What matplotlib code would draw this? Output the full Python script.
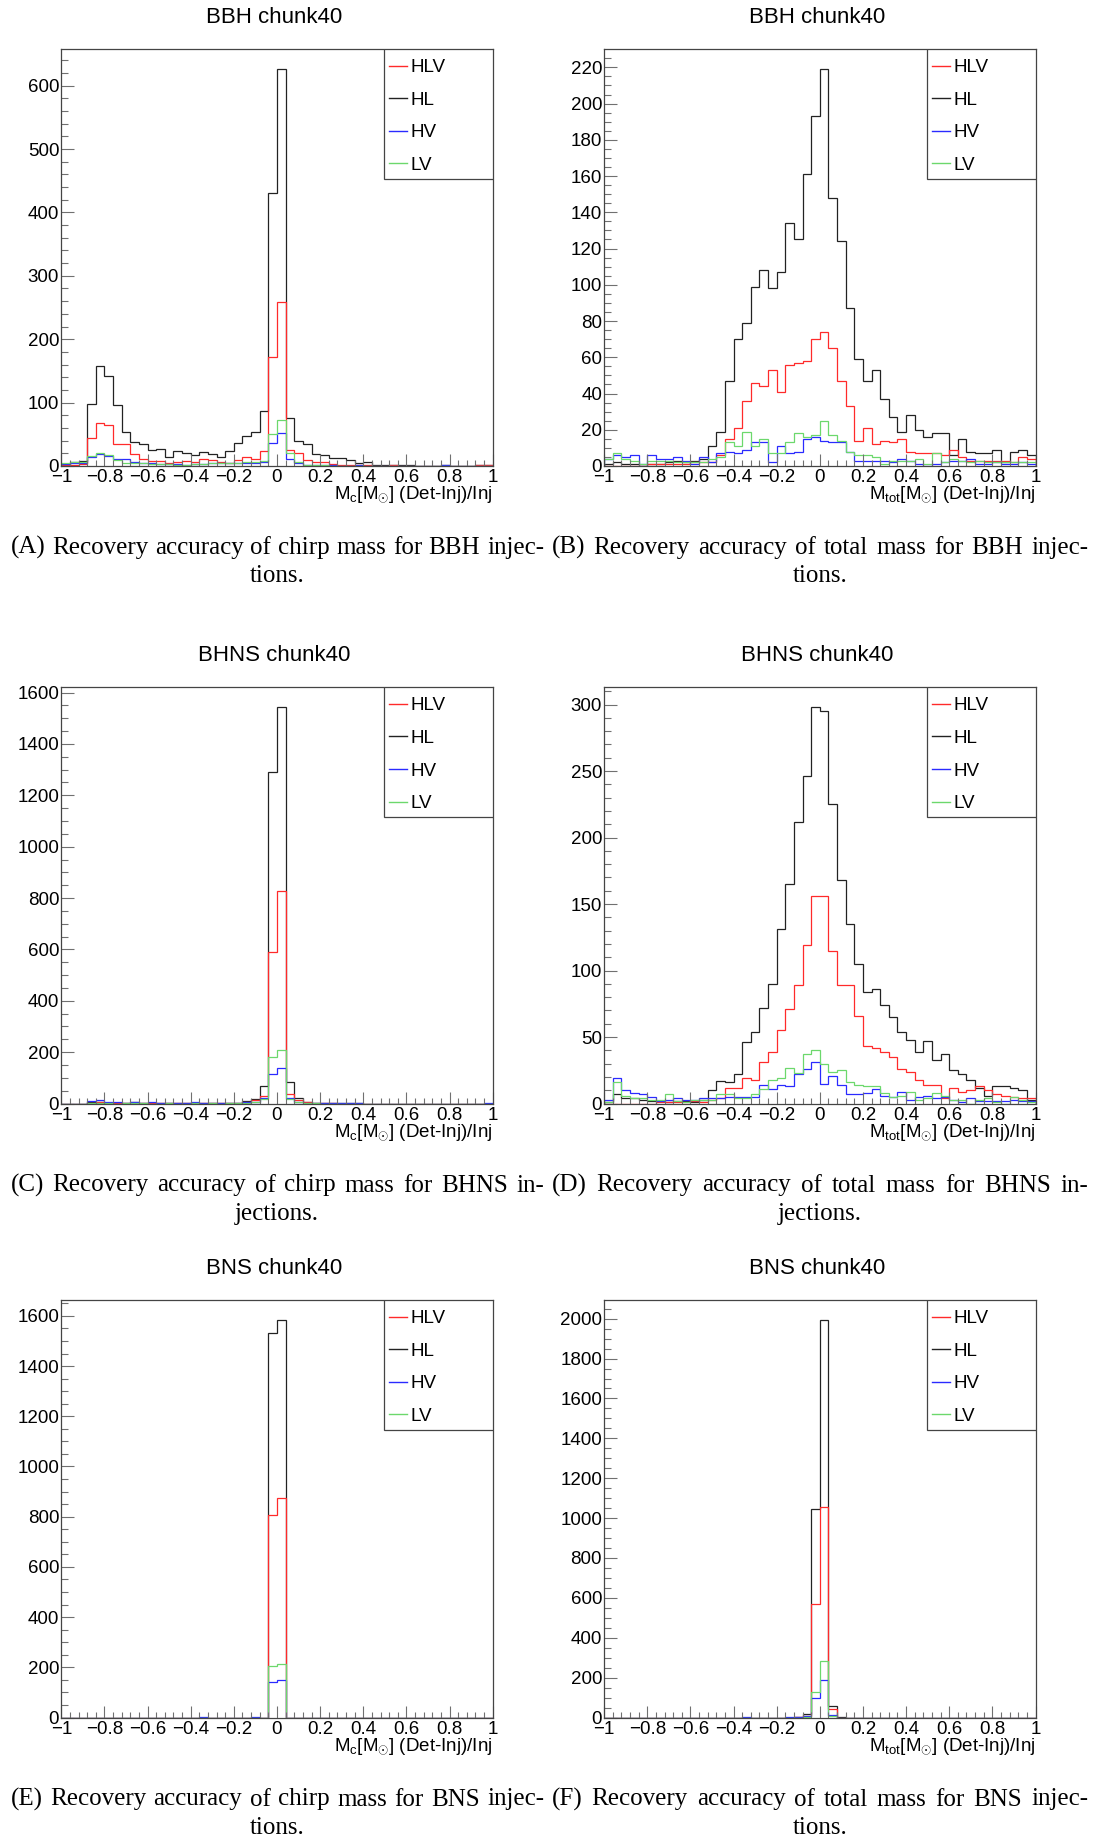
import numpy as np
import matplotlib
matplotlib.use('Agg')
import matplotlib.pyplot as plt
from matplotlib.patches import Rectangle
from matplotlib.ticker import MultipleLocator, FixedLocator

plt.rcParams['font.family'] = ['Liberation Sans', 'DejaVu Sans']
plt.rcParams['mathtext.fontset'] = 'custom'
plt.rcParams['mathtext.rm'] = 'Liberation Sans'
plt.rcParams['mathtext.it'] = 'Liberation Sans:italic'
plt.rcParams['mathtext.bf'] = 'Liberation Sans:bold'

# 50 bins from -1 to 1
bin_edges = np.round(np.linspace(-1, 1, 51), 2)

xtick_pos = [-1, -0.8, -0.6, -0.4, -0.2, 0, 0.2, 0.4, 0.6, 0.8, 1]
xtick_labels = ['\u22121', '\u22120.8', '\u22120.6', '\u22120.4', '\u22120.2', '0',
                '0.2', '0.4', '0.6', '0.8', '1']

series_names = ['HLV', 'HL', 'HV', 'LV']
series_colors = {'HLV': '#ff2a2a', 'HL': '#222222', 'HV': '#2a2aff', 'LV': '#6cd86c'}
draw_order = ['HL', 'HLV', 'HV', 'LV']

# ---- BBH chirp mass
HL_A = [2, 6, 8, 98, 157, 142, 97, 54, 38, 35, 26, 27, 14, 24, 20, 17, 22, 19, 14, 24,
        37, 47, 53, 86, 431, 626, 75, 39, 35, 19, 17, 13, 12, 9, 5, 6, 2, 1, 1, 1,
        1, 0, 0, 0, 1, 0, 0, 0, 1, 1]
HLV_A = [1, 2, 3, 44, 68, 65, 34, 35, 19, 11, 8, 8, 4, 6, 8, 7, 11, 9, 7, 5,
         9, 14, 11, 24, 172, 259, 26, 21, 9, 6, 7, 3, 2, 1, 1, 1, 0, 0, 1, 0,
         0, 0, 0, 0, 0, 0, 0, 0, 1, 1]
HV_A = [3, 4, 5, 14, 19, 15, 11, 11, 6, 5, 4, 3, 3, 3, 2, 3, 3, 4, 4, 5,
        4, 4, 5, 6, 36, 52, 11, 5, 2, 1, 1, 1, 0, 0, 1, 0, 0, 0, 0, 0,
        0, 0, 0, 0, 1, 0, 0, 0, 0, 0]
LV_A = [5, 6, 7, 15, 20, 17, 9, 5, 5, 4, 3, 3, 3, 2, 2, 3, 3, 4, 4, 5,
        5, 6, 6, 8, 50, 73, 20, 6, 2, 1, 1, 0, 0, 0, 0, 0, 0, 0, 0, 0,
        0, 0, 0, 0, 0, 0, 0, 0, 0, 0]

# ---- BBH total mass
HL_B = [1, 2, 1, 1, 0, 1, 1, 2, 3, 2, 3, 4, 11, 19, 47, 70, 79, 99, 108, 98,
        107, 134, 125, 161, 193, 219, 148, 124, 87, 59, 47, 53, 37, 27, 19, 28, 20, 16, 18, 18,
        6, 15, 8, 7, 7, 9, 2, 8, 9, 6]
HLV_B = [0, 0, 0, 0, 0, 1, 1, 1, 1, 1, 2, 2, 2, 6, 15, 21, 36, 46, 44, 53,
         41, 56, 57, 58, 70, 74, 65, 47, 33, 14, 21, 12, 14, 13, 15, 8, 7, 7, 7, 6,
         9, 5, 3, 3, 3, 3, 3, 2, 5, 4]
HV_B = [4, 6, 5, 6, 1, 6, 4, 4, 5, 3, 1, 5, 2, 7, 8, 7, 9, 13, 13, 2,
        11, 7, 8, 15, 16, 14, 13, 13, 8, 3, 3, 3, 3, 2, 4, 3, 1, 0, 1, 2,
        3, 3, 4, 1, 1, 2, 1, 1, 2, 1]
LV_B = [4, 7, 4, 3, 1, 3, 3, 3, 2, 2, 2, 2, 4, 5, 13, 11, 19, 11, 15, 7,
        7, 13, 18, 16, 17, 25, 17, 14, 8, 6, 6, 5, 1, 3, 3, 3, 4, 1, 7, 2,
        4, 3, 2, 3, 2, 2, 2, 2, 2, 2]

# ---- BHNS chirp mass
HL_C = [0, 0, 0, 5, 6, 3, 2, 3, 4, 2, 3, 2, 1, 2, 1, 2, 2, 3, 2, 1,
        3, 10, 18, 70, 1292, 1543, 85, 22, 7, 3, 2, 2, 2, 1, 1, 0, 0, 0, 0, 0,
        0, 0, 0, 0, 0, 0, 0, 0, 0, 0]
HLV_C = [0, 0, 0, 3, 4, 2, 1, 2, 3, 1, 2, 1, 1, 1, 1, 2, 1, 2, 1, 1,
         2, 5, 12, 28, 590, 828, 37, 13, 4, 2, 1, 1, 0, 0, 0, 0, 0, 0, 0, 0,
         0, 0, 0, 0, 0, 0, 0, 0, 0, 0]
HV_C = [0, 0, 0, 8, 12, 5, 4, 3, 6, 3, 4, 2, 2, 3, 2, 4, 2, 3, 2, 2,
        3, 4, 6, 22, 115, 140, 20, 7, 3, 2, 3, 2, 2, 3, 1, 0, 0, 0, 0, 0,
        0, 0, 0, 0, 0, 0, 0, 0, 0, 2]
LV_C = [0, 0, 0, 1, 1, 1, 0, 1, 1, 1, 0, 0, 1, 0, 0, 1, 0, 1, 0, 1,
        1, 2, 5, 18, 181, 207, 18, 7, 2, 1, 0, 0, 0, 0, 0, 0, 0, 0, 0, 0,
        0, 0, 0, 0, 0, 0, 0, 0, 0, 0]

# ---- BHNS total mass
HL_D = [1, 7, 4, 4, 3, 2, 2, 1, 2, 2, 1, 3, 10, 17, 16, 22, 46, 54, 72, 90,
        131, 165, 212, 246, 298, 295, 225, 168, 135, 105, 84, 86, 74, 65, 54, 48, 39, 47, 33, 37,
        25, 22, 18, 12, 6, 13, 13, 12, 10, 3]
HLV_D = [0, 0, 0, 0, 0, 0, 1, 1, 1, 1, 2, 1, 3, 4, 12, 12, 19, 18, 31, 39,
         55, 71, 89, 119, 156, 156, 115, 89, 89, 66, 43, 42, 39, 35, 26, 24, 18, 14, 14, 4,
         12, 9, 10, 13, 10, 7, 6, 5, 4, 4]
HV_D = [3, 19, 10, 8, 7, 5, 2, 3, 4, 3, 3, 4, 4, 4, 5, 5, 5, 5, 14, 11,
        14, 13, 22, 26, 31, 15, 21, 14, 7, 7, 8, 11, 6, 5, 9, 3, 5, 6, 4, 5,
        3, 1, 4, 2, 2, 2, 2, 3, 2, 2]
LV_D = [1, 16, 6, 4, 4, 3, 3, 7, 2, 1, 3, 3, 3, 7, 7, 4, 4, 7, 11, 18,
        19, 27, 23, 37, 40, 30, 24, 25, 16, 14, 13, 13, 8, 5, 6, 9, 3, 4, 8, 6,
        3, 3, 0, 3, 4, 1, 0, 5, 3, 1]

# ---- BNS chirp mass
HL_E = [0] * 24 + [1531, 1584] + [0] * 24
HLV_E = [0] * 24 + [806, 873] + [0] * 24
HV_E = [0] * 16 + [2, 0, 0, 0, 0, 0, 2, 0] + [140, 148] + [0] * 24
LV_E = [0] * 24 + [204, 212] + [0] * 24

# ---- BNS total mass
HL_F = [0] * 22 + [3, 17, 1047, 1994, 60, 3] + [0] * 22
HLV_F = [0] * 22 + [3, 9, 571, 1058, 41, 0] + [0] * 22
HV_F = [0] * 16 + [3, 0, 0, 0, 0, 2, 4, 6, 98, 186, 13, 0] + [0] * 22
LV_F = [0] * 23 + [4, 126, 282, 9] + [0] * 23

titles = ['BBH chunk40', 'BBH chunk40', 'BHNS chunk40', 'BHNS chunk40',
          'BNS chunk40', 'BNS chunk40']
xlabel_c = r'M$_{\mathrm{c}}$[M$_{\odot}$] (Det-Inj)/Inj'
xlabel_tot = r'M$_{\mathrm{tot}}$[M$_{\odot}$] (Det-Inj)/Inj'
captions = [
    ('(A) Recovery accuracy of chirp mass for BBH injec-', 'tions.'),
    ('(B) Recovery accuracy of total mass for BBH injec-', 'tions.'),
    ('(C) Recovery accuracy of chirp mass for BHNS in-', 'jections.'),
    ('(D) Recovery accuracy of total mass for BHNS in-', 'jections.'),
    ('(E) Recovery accuracy of chirp mass for BNS injec-', 'tions.'),
    ('(F) Recovery accuracy of total mass for BNS injec-', 'tions.'),
]

panels = [
    dict(data={'HLV': HLV_A, 'HL': HL_A, 'HV': HV_A, 'LV': LV_A}, xlabel=xlabel_c, major=100, minor=20),
    dict(data={'HLV': HLV_B, 'HL': HL_B, 'HV': HV_B, 'LV': LV_B}, xlabel=xlabel_tot, major=20, minor=5),
    dict(data={'HLV': HLV_C, 'HL': HL_C, 'HV': HV_C, 'LV': LV_C}, xlabel=xlabel_c, major=200, minor=50),
    dict(data={'HLV': HLV_D, 'HL': HL_D, 'HV': HV_D, 'LV': LV_D}, xlabel=xlabel_tot, major=50, minor=10),
    dict(data={'HLV': HLV_E, 'HL': HL_E, 'HV': HV_E, 'LV': LV_E}, xlabel=xlabel_c, major=200, minor=50),
    dict(data={'HLV': HLV_F, 'HL': HL_F, 'HV': HV_F, 'LV': LV_F}, xlabel=xlabel_tot, major=200, minor=50),
]

W, H = 1094, 1838
fig = plt.figure(figsize=(W / 100, H / 100), dpi=100)
renderer = fig.canvas.get_renderer()

col_x = [(61.3, 492.7), (604.2, 1035.5)]
row_y = [(49.3, 466.0), (687.4, 1103.5), (1300.0, 1717.5)]
cap_x = [(10.5, 544.0), (552.0, 1088.0)]
serif = ['Liberation Serif', 'DejaVu Serif']
cap_size = 18


def justified(text, x0, x1, y_base, size):
    # spread the words of a caption line over the column width
    words = text.split()
    arts = [fig.text(0, 1 - y_base / H, w, ha='left', va='baseline', fontsize=size,
                     family=serif) for w in words]
    widths = [a.get_window_extent(renderer).width for a in arts]
    gap = (x1 - x0 - sum(widths)) / (len(words) - 1)
    x = x0
    for a, w in zip(arts, widths):
        a.set_x(x / W)
        x += w + gap


for k, p in enumerate(panels):
    r, c = divmod(k, 2)
    x0, x1 = col_x[c]
    y0, y1 = row_y[r]
    hpx = y1 - y0
    ax = fig.add_axes([x0 / W, 1 - y1 / H, (x1 - x0) / W, hpx / H])

    for name in draw_order:
        ax.stairs(p['data'][name], bin_edges, color=series_colors[name], lw=0.9)

    top = 1.05 * max(max(v) for v in p['data'].values())
    ax.set_xlim(-1, 1)
    ax.set_ylim(0, top)

    ax.xaxis.set_major_locator(FixedLocator(xtick_pos))
    ax.set_xticklabels(xtick_labels)
    ax.xaxis.set_minor_locator(MultipleLocator(0.04))
    ax.yaxis.set_major_locator(MultipleLocator(p['major']))
    ax.yaxis.set_minor_locator(MultipleLocator(p['minor']))
    ax.tick_params(axis='both', which='both', direction='in', color='#707070', width=0.8,
                   labelsize=13.5, top=False, right=False)
    ax.tick_params(axis='x', which='major', length=8.4, pad=2.5)
    ax.tick_params(axis='x', which='minor', length=4.3)
    ax.tick_params(axis='y', which='major', length=9.4, pad=1.5)
    ax.tick_params(axis='y', which='minor', length=5.0)
    for s in ax.spines.values():
        s.set_color('#444444')
        s.set_linewidth(0.9)
        s.set_zorder(5)

    ax.text(1.0, -33.3 / hpx, p['xlabel'], transform=ax.transAxes, ha='right',
            va='baseline', fontsize=13.5)
    ax.text(0.494, 1 + 26 / hpx, titles[k], transform=ax.transAxes, ha='center',
            va='baseline', fontsize=16)

    # legend box, ROOT style
    ax.add_patch(Rectangle((0.749, 1 - 130 / hpx), 0.251, 130 / hpx, transform=ax.transAxes,
                           facecolor='white', edgecolor='#444444', lw=0.9, zorder=6))
    for i, name in enumerate(series_names):
        yc = 1 - (16.5 + 32.55 * i) / hpx
        ax.plot([0.760, 0.8025], [yc, yc], transform=ax.transAxes, color=series_colors[name],
                lw=1.0, zorder=7, clip_on=False)
        ax.text(0.81, yc - 6.6 / hpx, name, transform=ax.transAxes, ha='left',
                va='baseline', fontsize=13.6, zorder=7)

    cx0, cx1 = cap_x[c]
    base = y1 + 88
    line1, line2 = captions[k]
    justified(line1, cx0, cx1, base, cap_size)
    fig.text((cx0 + cx1) / 2 / W, 1 - (base + 28.5) / H, line2, ha='center', va='baseline',
             fontsize=cap_size, family=serif)

fig.savefig('out.png', dpi=100)
